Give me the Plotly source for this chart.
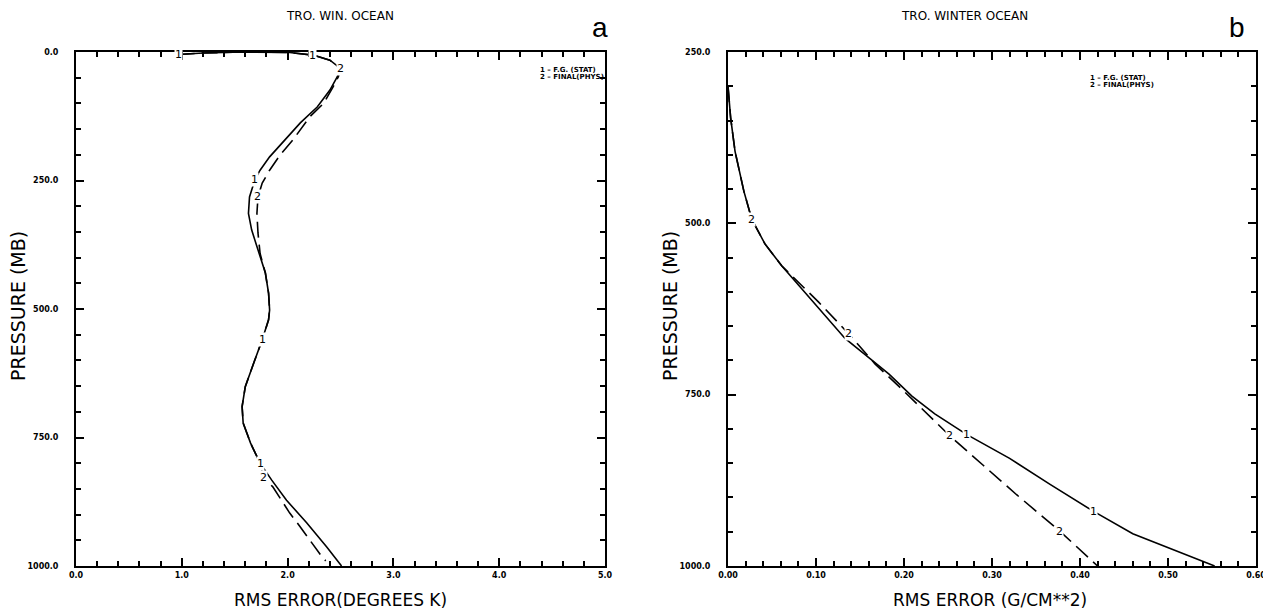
import plotly.graph_objects as go

# ---------------- data: panel a (temperature RMS error) ----------------
a1_p = [5, 2, 0, 1, 6, 16, 32, 48, 74, 107, 138, 174, 204, 230, 249, 282, 314, 346, 385, 430,
        469, 502, 521, 560, 605, 651, 690, 722, 761, 800, 833, 872, 916, 963, 1000]
a1_x = [0.97, 1.20, 1.58, 2.02, 2.24, 2.40, 2.50, 2.47, 2.40, 2.28, 2.12, 1.96, 1.83, 1.74, 1.69,
        1.64, 1.63, 1.66, 1.72, 1.79, 1.82, 1.83, 1.82, 1.76, 1.68, 1.60, 1.57, 1.58, 1.65, 1.74,
        1.85, 1.99, 2.18, 2.37, 2.51]
a2_p = [5, 2, 0, 1, 6, 16, 32, 48, 68, 100, 126, 171, 200, 230, 255, 282, 314, 352, 392, 430,
        469, 502, 521, 560, 605, 651, 690, 722, 761, 800, 827, 846, 897, 924, 978, 990]
a2_x = [0.97, 1.20, 1.58, 2.02, 2.24, 2.40, 2.50, 2.48, 2.43, 2.34, 2.21, 2.05, 1.93, 1.83, 1.76,
        1.72, 1.71, 1.72, 1.74, 1.79, 1.82, 1.83, 1.82, 1.76, 1.68, 1.60, 1.57, 1.58, 1.65, 1.74,
        1.77, 1.86, 2.02, 2.12, 2.31, 2.36]

# ---------------- data: panel b (moisture RMS error) ----------------
b1_p = [300, 346, 395, 453, 494, 530, 562, 596, 631, 668, 696, 720, 752, 778, 808, 843, 881,
        920, 953, 978, 1000]
b1_x = [0.000, 0.003, 0.008, 0.018, 0.027, 0.042, 0.061, 0.084, 0.107, 0.133, 0.160, 0.183,
        0.209, 0.235, 0.271, 0.320, 0.366, 0.415, 0.460, 0.510, 0.553]
b2_p = [300, 346, 395, 453, 494, 530, 562, 615, 661, 705, 740, 770, 810, 853, 896, 949, 1000]
b2_x = [0.000, 0.003, 0.008, 0.018, 0.027, 0.042, 0.061, 0.103, 0.137, 0.167, 0.196, 0.220,
        0.252, 0.290, 0.328, 0.377, 0.420]

# curve-number labels placed on points of the curves (index into arrays)
a1_lab = [0, 4, 14, 23, 29]
a2_lab = [6, 15, 30]
b1_lab = [14, 17]
b2_lab = [4, 8, 12, 15]

legend_lines = ["1 \u2013 F.G. (STAT)", "2 \u2013 FINAL(PHYS)"]
titles = ["TRO. WIN. OCEAN", "TRO. WINTER OCEAN"]
xtitles = ["RMS ERROR(DEGREES K)", "RMS ERROR (G/CM**2)"]
ytitle = "PRESSURE (MB)"
panel_tags = ["a", "b"]

OFF = 8                      # page body margin of the html page
W, H = 1271 - OFF, 613 - OFF
ML, MT = 76 - OFF, 52 - OFF
MR = W - (1256 - OFF)
MB = H - (566 - OFF)
PW, PH = W - ML - MR, H - MT - MB
def ax_(x): return (x - OFF - ML) / PW        # page pixel x -> paper fraction
def ay_(y): return 1 - (y - OFF - MT) / PH    # page pixel y -> paper fraction

fig = go.Figure()
line_solid = dict(color="black", width=1.6)
line_dash = dict(color="black", width=1.6, dash="16px,7px")

fig.add_trace(go.Scatter(x=a1_x, y=a1_p, mode="lines", line=line_solid, xaxis="x", yaxis="y"))
fig.add_trace(go.Scatter(x=a2_x, y=a2_p, mode="lines", line=line_dash, xaxis="x", yaxis="y"))
fig.add_trace(go.Scatter(x=b1_x, y=b1_p, mode="lines", line=line_solid, xaxis="x2", yaxis="y2"))
fig.add_trace(go.Scatter(x=b2_x, y=b2_p, mode="lines", line=line_dash, xaxis="x2", yaxis="y2"))

tickfont = dict(family="DejaVu Sans", size=8, color="black", weight="bold")
def axis_common():
    return dict(showgrid=False, zeroline=False, showline=True, linecolor="black", linewidth=2,
                mirror="allticks", ticks="inside", ticklen=8, tickwidth=1.5, tickcolor="black",
                tickfont=tickfont, automargin=False, ticklabeloverflow="allow")

fig.update_layout(
    width=W, height=H, autosize=False, margin=dict(l=ML, r=MR, t=MT, b=MB, pad=0),
    paper_bgcolor="white", plot_bgcolor="white", showlegend=False,
    xaxis=dict(domain=[0, ax_(605)], range=[0, 5], tick0=0, dtick=1, tickformat=".1f",
               anchor="y", minor=dict(dtick=0.2, ticks="inside", ticklen=5, tickwidth=1.5,
                                      tickcolor="black"), **axis_common()),
    yaxis=dict(domain=[0, 1], range=[1000, 0], tick0=0, dtick=250, tickformat=".1f",
               anchor="x", ticklabelstandoff=14,
               minor=dict(dtick=50, ticks="inside", ticklen=5, tickwidth=1.5, tickcolor="black"),
               **axis_common()),
    xaxis2=dict(domain=[ax_(728), 1], range=[0, 0.6], tick0=0, dtick=0.1, tickformat=".2f",
                anchor="y2", minor=dict(dtick=0.02, ticks="inside", ticklen=5, tickwidth=1.5,
                                        tickcolor="black"), **axis_common()),
    yaxis2=dict(domain=[0, 1], range=[1000, 250], tick0=250, dtick=250,
                tickformat=".1f", anchor="x2", ticklabelstandoff=14,
                minor=dict(dtick=50, ticks="inside", ticklen=5, tickwidth=1.5, tickcolor="black"),
                **axis_common()),
)

ann = []
labfont = dict(family="DejaVu Sans", size=11, color="black")
for xs, ps, idxs, t, xr, yr in [(a1_x, a1_p, a1_lab, "1", "x", "y"), (a2_x, a2_p, a2_lab, "2", "x", "y"),
                                 (b1_x, b1_p, b1_lab, "1", "x2", "y2"), (b2_x, b2_p, b2_lab, "2", "x2", "y2")]:
    for i in idxs:
        ann.append(dict(x=xs[i], y=ps[i], xref=xr, yref=yr, text=t, showarrow=False,
                        font=labfont, bgcolor="white", borderpad=0))

def pap(x, y, text, font, **kw):
    d = dict(x=ax_(x), y=ay_(y), xref="paper", yref="paper", text=text, showarrow=False,
             font=font, xanchor="center", yanchor="middle")
    d.update(kw)
    return d

tfont = dict(family="DejaVu Sans", size=12, color="black")
xtfont = dict(family="DejaVu Sans", size=17, color="black")
ytfont = dict(family="DejaVu Sans", size=19, color="black")
legfont = dict(family="DejaVu Sans", size=7, color="black", weight="bold")
tagfont = dict(family="Liberation Sans", size=28, color="black")

for k, (tcx, xcx, tagx, ytx) in enumerate([(340, 340, 600, 18), (965, 990, 1237, 670)]):
    ann.append(pap(tcx, 16, titles[k], tfont))
    ann.append(pap(xcx, 600, xtitles[k], xtfont))
    ann.append(pap(tagx, 28, panel_tags[k], tagfont))
    ann.append(pap(ytx, 306, ytitle, ytfont, textangle=-90))

for k, (lx, ly) in enumerate([(538, 70), (1088, 78)]):
    for j, s in enumerate(legend_lines):
        ann.append(pap(lx, ly + 7 * j, s, legfont, xanchor="left"))

fig.update_layout(annotations=ann)
fig.write_html("out.html")
